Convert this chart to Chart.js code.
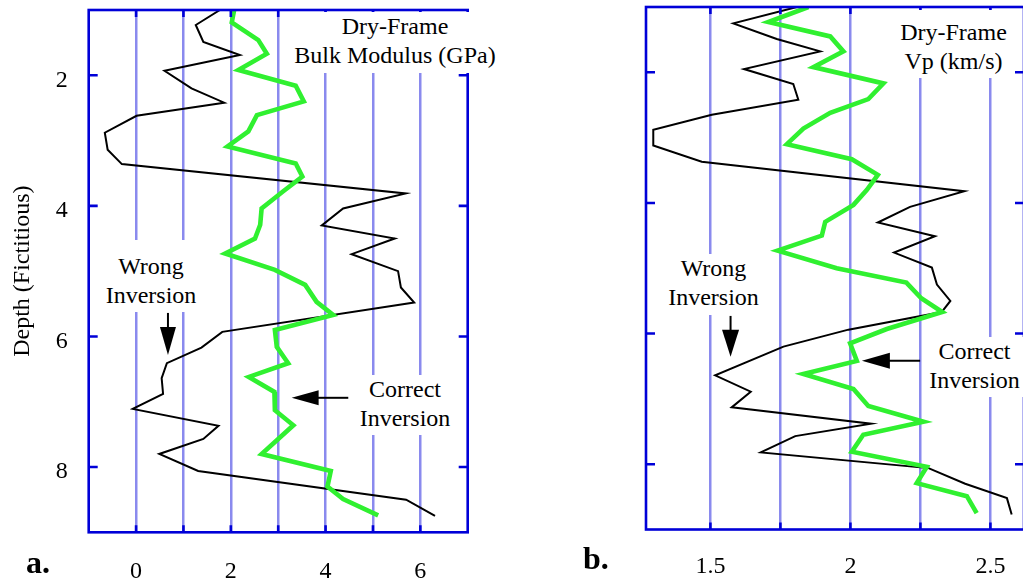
<!DOCTYPE html>
<html>
<head>
<meta charset="utf-8">
<script src="https://cdn.jsdelivr.net/npm/chart.js@4/dist/chart.umd.min.js"></script>
<style>
  html, body { margin: 0; padding: 0; background: #fff; }
  body { width: 1023px; height: 581px; overflow: hidden; position: relative;
         font-family: 'Liberation Serif', 'Times New Roman', serif; }
  .wrap { position: absolute; top: -40px; width: 520px; height: 661px; }
  .note { position: absolute; background: #fff; text-align: center;
          font-size: 24px; line-height: 29px; color: #000; white-space: nowrap; }
  .panel { position: absolute; font-size: 32px; font-weight: bold; line-height: 32px; color: #000; }
</style>
</head>
<body>
<div class="wrap" style="left:0"><canvas id="cA" width="520" height="661"></canvas></div>
<div class="wrap" style="left:520px"><canvas id="cB" width="520" height="661"></canvas></div>

<div class="note" style="left:292px; top:12px; width:206px; padding-bottom:3px;">Dry-Frame<br>Bulk Modulus (GPa)</div>
<div class="note" style="left:101px; top:240px; width:100px; padding-top:12px; padding-bottom:2px;">Wrong<br>Inversion</div>
<div class="note" style="left:355px; top:375px; width:100px; padding-bottom:2px;">Correct<br>Inversion</div>
<div class="note" style="left:895px; top:10px; width:117px; padding-top:8px; padding-bottom:2px;">Dry-Frame<br>Vp (km/s)</div>
<div class="note" style="left:662px; top:254px; width:103px; padding-bottom:3px;">Wrong<br>Inversion</div>
<div class="note" style="left:925px; top:337px; width:99px; padding-bottom:2px;">Correct<br>Inversion</div>
<div class="panel" style="left:26px; top:546px;">a.</div>
<div class="panel" style="left:583px; top:542px;">b.</div>

<script>
// ---------- data ----------
const depthTicks = [2, 4, 6, 8];

// Panel a: Dry-frame bulk modulus (GPa)
const gridA = [0, 1, 2, 3, 4, 5, 6];
const labelsA = [0, 2, 4, 6];
const depthWrongA = [1.00,1.23,1.49,1.69,1.93,2.20,2.42,2.62,2.88,3.14,3.36,3.81,4.04,4.30,4.50,4.74,5.00,5.25,5.48,5.93,6.17,6.41,6.64,6.88,7.11,7.37,7.57,7.80,8.06,8.50,8.75];
const bulkWrong = [1.77,1.26,1.42,2.19,0.60,1.17,1.86,0.01,-0.66,-0.60,-0.30,5.69,4.37,3.92,5.46,4.55,5.53,5.59,5.87,1.82,1.38,0.65,0.54,0.57,-0.07,1.74,1.42,0.49,1.31,5.70,6.31];
const depthCorrectA = [1.00,1.19,1.46,1.67,1.92,2.16,2.40,2.61,2.86,3.09,3.35,3.55,3.78,4.04,4.29,4.50,4.73,4.98,5.21,5.47,5.67,5.90,6.16,6.41,6.62,6.85,7.13,7.36,7.80,8.06,8.30,8.49,8.74];
const bulkCorrect = [2.07,2.02,2.58,2.76,2.16,3.37,3.54,2.55,2.37,1.93,3.37,3.51,3.10,2.65,2.62,2.51,1.88,2.93,3.57,3.81,4.16,2.93,2.97,3.21,2.38,2.92,2.93,3.32,2.65,4.11,4.04,4.37,5.11];

// Panel b: Dry-frame Vp (km/s)
const gridB = [1.5, 1.75, 2, 2.25, 2.5];
const labelsB = [1.5, 2, 2.5];
const depthWrongB = [1.00,1.25,1.49,1.68,1.95,2.18,2.42,2.65,2.88,3.12,3.37,3.82,4.06,4.30,4.51,4.76,4.99,5.25,5.50,5.67,5.94,6.20,6.64,6.89,7.13,7.38,7.57,7.82,8.06,8.30,8.52,8.77];
const vpWrong = [1.809,1.582,1.737,1.892,1.620,1.796,1.814,1.505,1.296,1.296,1.469,2.407,2.213,2.098,2.302,2.156,2.291,2.309,2.357,2.326,1.993,1.761,1.517,1.644,1.576,2.074,1.803,1.680,2.279,2.410,2.559,2.576];
const depthCorrectB = [1.00,1.23,1.45,1.68,1.92,2.17,2.41,2.62,2.86,3.10,3.33,3.57,3.80,4.03,4.29,4.50,4.73,5.00,5.22,5.46,5.67,5.93,6.15,6.42,6.62,6.85,7.11,7.35,7.55,7.81,8.04,8.29,8.49,8.75];
const vpCorrect = [1.850,1.707,1.928,1.975,1.868,2.118,2.064,1.928,1.832,1.773,2.005,2.098,2.059,2.011,1.910,1.898,1.740,1.951,2.200,2.253,2.328,2.130,1.999,2.023,1.832,2.011,2.064,2.261,2.046,2.005,2.273,2.237,2.416,2.451];

// ---------- styles ----------
const FONT = "'Liberation Serif', 'Times New Roman', serif";
const FRAME = '#0000d8';
const GRID = '#8a8aee';
const GREEN = '#30f030';
Chart.defaults.font.family = FONT;
Chart.defaults.color = '#000';

const pts = (depths, vals) => depths.map((d, i) => ({ x: vals[i], y: d }));

const framePlugin = {
  id: 'frame',
  afterDraw(chart, args, opts) {
    const { ctx, chartArea: a, scales: { x, y } } = chart;
    ctx.save();
    ctx.strokeStyle = FRAME;
    ctx.lineWidth = 2.6;
    ctx.strokeRect(a.left, a.top, a.right - a.left, a.bottom - a.top);
    ctx.beginPath();
    x.ticks.forEach(t => {
      const px = x.getPixelForValue(t.value);
      ctx.moveTo(px, a.top); ctx.lineTo(px, a.top + 7);
      ctx.moveTo(px, a.bottom); ctx.lineTo(px, a.bottom - 7);
    });
    y.ticks.forEach(t => {
      const py = y.getPixelForValue(t.value);
      ctx.moveTo(a.left, py); ctx.lineTo(a.left + 9, py);
      ctx.moveTo(a.right, py); ctx.lineTo(a.right - 9, py);
    });
    ctx.stroke();
    // annotation arrows (data coords)
    ctx.strokeStyle = '#000';
    ctx.fillStyle = '#000';
    ctx.lineWidth = 2;
    (opts.arrows || []).forEach(ar => {
      const x0 = x.getPixelForValue(ar.from[0]), y0 = y.getPixelForValue(ar.from[1]);
      const x1 = x.getPixelForValue(ar.to[0]), y1 = y.getPixelForValue(ar.to[1]);
      const len = Math.hypot(x1 - x0, y1 - y0);
      const ux = (x1 - x0) / len, uy = (y1 - y0) / len;
      const bx = x1 - ux * ar.head, by = y1 - uy * ar.head;
      ctx.beginPath();
      ctx.moveTo(x0, y0); ctx.lineTo(bx + ux, by + uy);
      ctx.stroke();
      ctx.beginPath();
      ctx.moveTo(x1, y1);
      ctx.lineTo(bx - uy * ar.half, by + ux * ar.half);
      ctx.lineTo(bx + uy * ar.half, by - ux * ar.half);
      ctx.closePath();
      ctx.fill();
    });
    ctx.restore();
  }
};

function makeChart(id, cfg) {
  return new Chart(document.getElementById(id), {
    type: 'scatter',
    data: {
      datasets: [
        { data: pts(cfg.depthCorrect, cfg.correct), showLine: true, borderColor: GREEN,
          borderWidth: 4.6, pointRadius: 0, tension: 0, fill: false, borderJoinStyle: 'miter' },
        { data: pts(cfg.depthWrong, cfg.wrong), showLine: true, borderColor: '#000',
          borderWidth: 2, pointRadius: 0, tension: 0, fill: false, borderJoinStyle: 'miter' }
      ]
    },
    options: {
      responsive: false,
      animation: false,
      devicePixelRatio: 1,
      events: [],
      layout: { padding: { top: cfg.padTop, right: cfg.padRight, left: 0, bottom: 0 } },
      plugins: { legend: { display: false }, tooltip: { enabled: false },
                 frame: { arrows: cfg.arrows } },
      scales: {
        x: {
          type: 'linear', position: 'bottom', min: cfg.xmin, max: cfg.xmax,
          afterBuildTicks: s => { s.ticks = cfg.grid.map(v => ({ value: v })); },
          afterFit: s => { s.height = cfg.xHeight; },
          grid: { color: GRID, lineWidth: 2.5, drawTicks: false, drawOnChartArea: true },
          border: { display: false },
          ticks: { padding: cfg.xPad, font: { size: 24 }, color: '#000',
                   callback: v => cfg.labels.includes(v) ? String(v) : '' }
        },
        y: {
          type: 'linear', position: 'left', min: 1, max: 9, reverse: true,
          afterBuildTicks: s => { s.ticks = depthTicks.map(v => ({ value: v })); },
          afterFit: s => { s.width = cfg.yWidth; },
          grid: { display: false, drawTicks: false },
          border: { display: false },
          ticks: { display: cfg.yLabels, padding: 21, labelOffset: 5, font: { size: 24 }, color: '#000',
                   callback: v => String(v) },
          title: { display: cfg.yLabels, text: 'Depth (Fictitious)', color: '#000',
                   font: { size: 24 }, padding: { top: 8.5, bottom: 0 } }
        }
      }
    },
    plugins: [framePlugin]
  });
}

makeChart('cA', {
  depthWrong: depthWrongA, wrong: bulkWrong, depthCorrect: depthCorrectA, correct: bulkCorrect,
  grid: gridA, labels: labelsA, xmin: -1, xmax: 7,
  padTop: 50, padRight: 52.3, yWidth: 88.7, xHeight: 88.7, xPad: 25, yLabels: true,
  arrows: [
    { from: [0.673, 5.64], to: [0.673, 6.283], head: 28, half: 8 },
    { from: [4.479, 6.94], to: [3.284, 6.94], head: 27, half: 7.5 }
  ]
});

makeChart('cB', {
  depthWrong: depthWrongB, wrong: vpWrong, depthCorrect: depthCorrectB, correct: vpCorrect,
  grid: gridB, labels: labelsB, xmin: 1.27, xmax: 2.62,
  padTop: 47, padRight: 16, yWidth: 126, xHeight: 91.5, xPad: 23, yLabels: false,
  arrows: [
    { from: [1.572, 5.73], to: [1.572, 6.355], head: 27, half: 8.5 },
    { from: [2.249, 6.417], to: [2.041, 6.417], head: 28, half: 8 }
  ]
});
</script>
</body>
</html>
